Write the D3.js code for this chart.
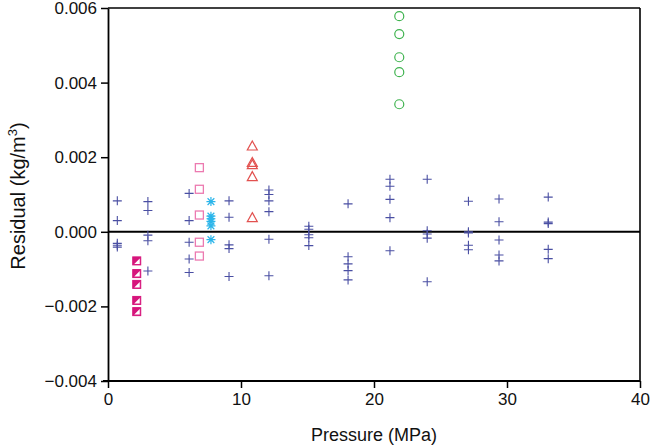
<!DOCTYPE html>
<html><head><meta charset="utf-8">
<script src="https://cdn.jsdelivr.net/npm/d3@7"></script>
<style>body{margin:0;background:#fff}svg{display:block}text{font-family:"Liberation Sans",Arial,sans-serif}</style>
</head><body><svg id="c" width="650" height="446"></svg>
<script>
// Reference-run series (blue crosses): pressure (MPa) and residual (kg/m3)
const crossP = [0.7,0.7,0.7,0.7,0.7, 3.0,3.0,3.0,3.0,3.0, 6.1,6.1,6.1,6.1,6.1, 9.1,9.1,9.1,9.1,9.1,
  12.1,12.1,12.1,12.1,12.1,12.1, 15.1,15.1,15.1,15.1,15.1, 18.05,18.05,18.05,18.05,18.05,
  21.2,21.2,21.2,21.2,21.2, 24.0,24.0,24.0,24.0,24.0, 27.1,27.1,27.1,27.1,27.1,
  29.4,29.4,29.4,29.4,29.4, 33.1,33.1,33.1,33.1,33.1];
const crossR = [0.00083,0.00030,-0.00031,-0.00036,-0.00041, 0.00081,0.00057,-0.00009,-0.00024,-0.00105,
  0.00103,0.00030,-0.00028,-0.00073,-0.00109, 0.00083,0.00039,-0.00035,-0.00045,-0.00120,
  0.00112,0.00100,0.00083,0.00054,-0.00020,-0.00118, 0.00015,0.00007,-0.00008,-0.00016,-0.00037,
  0.00075,-0.00067,-0.00086,-0.00104,-0.00129, 0.00141,0.00122,0.00087,0.00038,-0.00051,
  0.00141,0.00003,-0.00006,-0.00017,-0.00134, 0.00082,0.00000,-0.00003,-0.00036,-0.00048,
  0.00088,0.00027,-0.00022,-0.00062,-0.00078, 0.00093,0.00026,0.00022,-0.00047,-0.00072];
// Open pink squares
const sqOpenP = [6.87,6.87,6.87,6.87,6.87];
const sqOpenR = [0.00172,0.00114,0.00045,-0.00028,-0.00065];
// Cyan asterisks
const astP = [7.74,7.74,7.74,7.74,7.74,7.74];
const astR = [0.00081,0.00042,0.00035,0.00028,0.00016,-0.00021];
// Half-filled magenta squares
const sqHalfP = [2.16,2.16,2.16,2.16,2.16];
const sqHalfR = [-0.00078,-0.00112,-0.00141,-0.00184,-0.00214];
// Red open triangles
const triP = [10.85,10.85,10.85,10.85,10.85];
const triR = [0.00230,0.00186,0.00180,0.00148,0.00038];
// Green open circles
const circP = [21.9,21.9,21.9,21.9,21.9];
const circR = [0.00578,0.00530,0.00468,0.00428,0.00342];
// Axis ticks
const xTicks = [0,10,20,30,40];
const yTicks = [-0.004,-0.002,0,0.002,0.004,0.006];

const svg = d3.select("#c");
const L=108, R=640, T=8, B=381;
const x = d3.scaleLinear().domain([0,40]).range([L,R]);
const y = d3.scaleLinear().domain([-0.004,0.006]).range([B,T]);

// frame top/right
svg.append("line").attr("x1",L).attr("x2",R).attr("y1",T).attr("y2",T).attr("stroke","#000").attr("stroke-width",1.6);
svg.append("line").attr("x1",R).attr("x2",R).attr("y1",T).attr("y2",B).attr("stroke","#000").attr("stroke-width",1.6);

const fmt = d3.format(".3f");
const ya = svg.append("g").attr("transform",`translate(${L},0)`)
  .call(d3.axisLeft(y).tickValues(yTicks).tickFormat(d=>fmt(d)).tickSize(7).tickSizeOuter(0).tickPadding(4));
const xa = svg.append("g").attr("transform",`translate(0,${B})`)
  .call(d3.axisBottom(x).tickValues(xTicks).tickSize(7).tickSizeOuter(0).tickPadding(5));
[ya,xa].forEach(g=>{
  g.select(".domain").attr("stroke","#000").attr("stroke-width",1.8);
  g.selectAll(".tick line").attr("stroke","#000").attr("stroke-width",1.5);
  g.selectAll(".tick text").attr("fill","#111").style("font-size","17px").style("font-family",'"Liberation Sans",Arial,sans-serif');
});
xa.select(".domain").attr("d",`M${L-5},0H${R}`);

// zero line
svg.append("line").attr("x1",L).attr("x2",R).attr("y1",y(0)).attr("y2",y(0)).attr("stroke","#000").attr("stroke-width",2);

// axis titles
svg.append("text").attr("x",(L+R)/2).attr("y",441).attr("text-anchor","middle").style("font-size","18px").attr("fill","#111").text("Pressure (MPa)");
const yt = svg.append("text").attr("transform",`translate(25,196) rotate(-90)`).attr("text-anchor","middle").style("font-size","20px").attr("fill","#111");
yt.append("tspan").text("Residual (kg/m");
yt.append("tspan").attr("dy",-8).style("font-size","13px").text("3");
yt.append("tspan").attr("dy",8).text(")");

const pts = (P,Rr)=>P.map((p,i)=>({p,r:Rr[i]}));

// crosses
const cs=4.5;
svg.append("g").selectAll("path").data(pts(crossP,crossR)).join("path")
  .attr("d",d=>`M${x(d.p)-cs},${y(d.r)}H${x(d.p)+cs}M${x(d.p)},${y(d.r)-cs}V${y(d.r)+cs}`)
  .attr("stroke","#4a4fa3").attr("stroke-width",1.1).attr("fill","none");

// open pink squares
svg.append("g").selectAll("rect").data(pts(sqOpenP,sqOpenR)).join("rect")
  .attr("x",d=>x(d.p)-4).attr("y",d=>y(d.r)-4).attr("width",8).attr("height",8)
  .attr("fill","#fff").attr("stroke","#ec7ab0").attr("stroke-width",1.3);

// asterisks
const as=4.5;
svg.append("g").selectAll("path").data(pts(astP,astR)).join("path")
  .attr("d",d=>{const cx=x(d.p),cy=y(d.r),k=as*0.75;return `M${cx-as},${cy}H${cx+as}M${cx-k},${cy-k}L${cx+k},${cy+k}M${cx-k},${cy+k}L${cx+k},${cy-k}M${cx},${cy-as}V${cy+as}`;})
  .attr("stroke","#2bb5ea").attr("stroke-width",1.2).attr("fill","none");

// half-filled magenta squares
const hg = svg.append("g").selectAll("g").data(pts(sqHalfP,sqHalfR)).join("g")
  .attr("transform",d=>`translate(${x(d.p)},${y(d.r)})`);
hg.append("rect").attr("x",-4).attr("y",-4).attr("width",8).attr("height",8).attr("fill","#d6157c").attr("stroke","#d6157c").attr("stroke-width",1);
hg.append("path").attr("d","M3,-2.5L3,3L-2.5,3Z").attr("fill","#fff");

// triangles
svg.append("g").selectAll("path").data(pts(triP,triR)).join("path")
  .attr("d",d=>{const cx=x(d.p),cy=y(d.r);return `M${cx},${cy-5}L${cx+5},${cy+4}L${cx-5},${cy+4}Z`;})
  .attr("fill","none").attr("stroke","#e2514f").attr("stroke-width",1.2);

// circles
svg.append("g").selectAll("circle").data(pts(circP,circR)).join("circle")
  .attr("cx",d=>x(d.p)).attr("cy",d=>y(d.r)).attr("r",4.5)
  .attr("fill","none").attr("stroke","#3fb34f").attr("stroke-width",1.2);
</script></body></html>
